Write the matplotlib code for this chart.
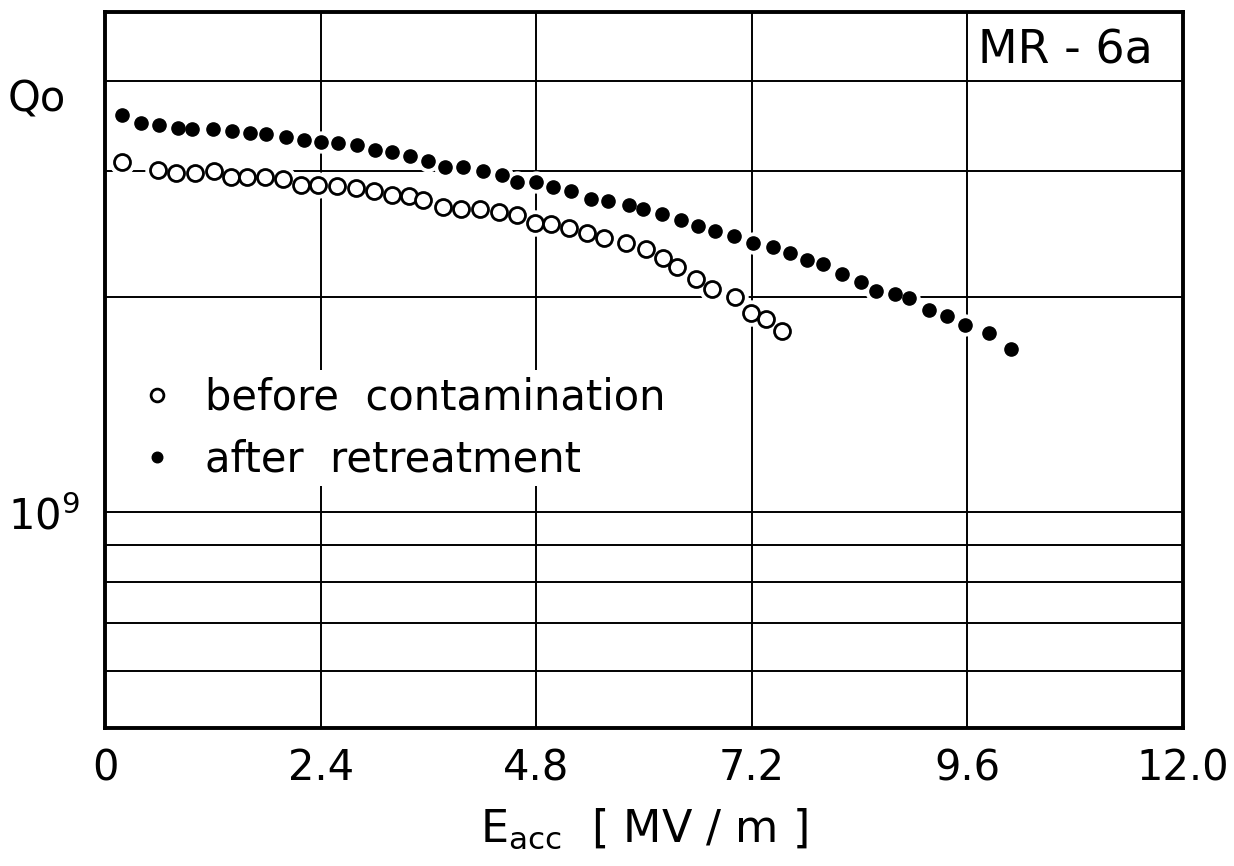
"""
Q0 vs Eacc for cavity MR-6a, before contamination and after retreatment.
Saves out.png.
"""

import matplotlib
matplotlib.use("Agg")
import matplotlib.pyplot as plt
import numpy as np

plt.rcParams["font.family"] = ["DejaVu Sans"]
plt.rcParams["mathtext.default"] = "regular"

# ---------------------------------------------------------------------------
# Data
# ---------------------------------------------------------------------------

e_before = [0.19, 0.59, 0.79, 1.00, 1.21, 1.40, 1.58, 1.78, 1.98, 2.18,
            2.37, 2.58, 2.79, 2.99, 3.20, 3.38, 3.54, 3.76, 3.96, 4.17,
            4.39, 4.59, 4.79, 4.96, 5.16, 5.36, 5.56, 5.80, 6.02, 6.21,
            6.37, 6.58, 6.76, 7.01, 7.19, 7.36, 7.54]
q_before = [3.09, 3.01, 2.98, 2.98, 3.00, 2.94, 2.94, 2.94, 2.92, 2.87,
            2.87, 2.86, 2.84, 2.81, 2.78, 2.77, 2.73, 2.67, 2.65, 2.65,
            2.63, 2.60, 2.54, 2.53, 2.50, 2.46, 2.42, 2.38, 2.33, 2.27,
            2.20, 2.12, 2.05, 2.00, 1.90, 1.86, 1.79]

e_after = [0.19, 0.40, 0.60, 0.81, 0.97, 1.20, 1.41, 1.61, 1.79, 2.01,
           2.21, 2.40, 2.59, 2.81, 3.00, 3.20, 3.39, 3.60, 3.79, 3.99,
           4.21, 4.42, 4.59, 4.80, 4.99, 5.19, 5.41, 5.60, 5.83, 5.99,
           6.20, 6.41, 6.60, 6.79, 7.00, 7.21, 7.44, 7.62, 7.81, 7.99,
           8.20, 8.41, 8.58, 8.79, 8.95, 9.17, 9.37, 9.57, 9.84, 10.09]
q_after = [3.59, 3.50, 3.48, 3.44, 3.43, 3.43, 3.41, 3.39, 3.38, 3.34,
           3.31, 3.29, 3.28, 3.26, 3.21, 3.19, 3.15, 3.10, 3.04, 3.04,
           3.00, 2.96, 2.89, 2.89, 2.85, 2.81, 2.74, 2.72, 2.69, 2.65,
           2.61, 2.56, 2.51, 2.47, 2.43, 2.38, 2.35, 2.30, 2.25, 2.22,
           2.15, 2.10, 2.04, 2.02, 1.99, 1.92, 1.88, 1.83, 1.78, 1.69]

x_ticks = [0, 2.4, 4.8, 7.2, 9.6, 12.0]
x_tick_labels = ["0", "2.4", "4.8", "7.2", "9.6", "12.0"]
y_grid = [6e8, 7e8, 8e8, 9e8, 1e9, 2e9, 3e9, 4e9]

q_before = np.array(q_before) * 1e9
q_after = np.array(q_after) * 1e9

# ---------------------------------------------------------------------------
# Figure
# ---------------------------------------------------------------------------

fig = plt.figure(figsize=(12.34, 8.66), dpi=100)
ax = fig.add_axes([0.0851, 0.1594, 0.8736, 0.8267])

ax.set_yscale("log")
ax.set_xlim(0, 12.0)
ax.set_ylim(5e8, 5e9)

ax.set_xticks(x_ticks)
ax.set_xticklabels(x_tick_labels)
ax.set_yticks(y_grid)
ax.set_yticklabels([r"$10^9$" if v == 1e9 else "" for v in y_grid])
ax.minorticks_off()
ax.tick_params(length=0, labelsize=30)
ax.tick_params(axis="x", pad=14)
ax.tick_params(axis="y", pad=18)
ax.grid(True, color="black", linewidth=1.4)
ax.set_axisbelow(True)

for sp in ax.spines.values():
    sp.set_linewidth(2.8)
    sp.set_zorder(5)

# white halo so grid lines break around the points, like the hand drawing
ax.plot(e_before, q_before, "o", ms=18, color="white", mec="white", zorder=2)
ax.plot(e_after, q_after, "o", ms=15, color="white", mec="white", zorder=2)

ax.plot(e_before, q_before, "o", ms=11.5, mfc="white", mec="black", mew=2.0,
        label="before  contamination", zorder=3)
ax.plot(e_after, q_after, "o", ms=9.5, color="black",
        label="after  retreatment", zorder=3)

leg = ax.legend(loc="upper left", bbox_to_anchor=(0.023, 0.50),
                borderaxespad=0, borderpad=0.15, fontsize=30,
                markerscale=0.8, handlelength=1.0, handletextpad=0.65,
                labelspacing=0.48, frameon=True, fancybox=False)
leg.get_frame().set_facecolor("white")
leg.get_frame().set_edgecolor("none")
leg.get_frame().set_alpha(1)

ax.text(0.891, 0.9455, "MR - 6a", transform=ax.transAxes, ha="center",
        va="center", fontsize=33)

ax.set_xlabel(r"E$_{acc}$  [ MV / m ]", fontsize=32, labelpad=12)
fig.text(0.030, 0.885, "Qo", ha="center", va="center", fontsize=30)

fig.savefig("out.png", dpi=100)
